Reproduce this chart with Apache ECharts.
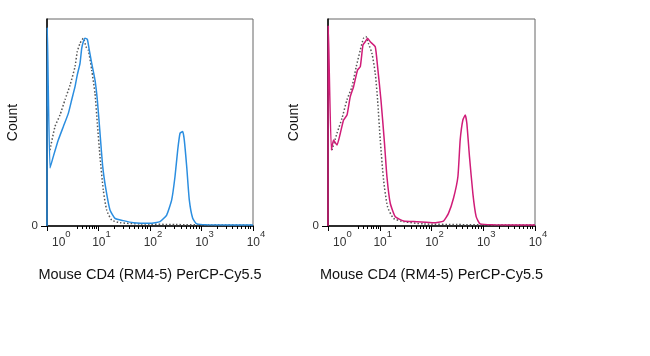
<!DOCTYPE html>
<html>
<head>
<meta charset="utf-8">
<script src="https://cdn.jsdelivr.net/npm/echarts@6/dist/echarts.min.js"></script>
<style>
html,body{margin:0;padding:0;background:#fff;}
#chart{width:650px;height:356px;}
</style>
</head>
<body>
<div id="chart"></div>
<script>
// x values are display positions on the biexponential axis (1 = 10^1, 2 = 10^2, ...)
// y values are % of mode
const xLabelPositions = [0.22, 1, 2, 3, 4];
const xLabelExponents = ['0', '1', '2', '3', '4'];
const xMajorTicks = [0, 1, 2, 3, 4];
const xTitle = 'Mouse CD4 (RM4-5) PerCP-Cy5.5';
const yTitle = 'Count';

const isoLeft = [[0.058,36.7],[0.155,48],[0.252,53.6],[0.35,61],[0.447,68],[0.544,77],[0.588,84.2],[0.641,88.2],[0.705,90.7],[0.757,86.6],[0.802,85],[0.868,75.4],[0.932,64],[0.977,49.6],[1.029,33.5],[1.093,17.4],[1.159,7.7],[1.256,2.9],[1.417,1.6],[1.806,1],[2.5,0.7],[3.2,0.5],[4,0.5]];
const stainLeft = [[0.0,0],[0.006,96],[0.058,28],[0.122,33.5],[0.219,41.5],[0.317,48],[0.414,54.4],[0.48,61],[0.544,67.3],[0.588,73],[0.641,78.6],[0.674,85.8],[0.705,89],[0.738,90.7],[0.783,90.2],[0.821,85],[0.868,78.6],[0.932,70.5],[0.977,61],[1.029,45],[1.082,28.7],[1.146,17.4],[1.223,7.7],[1.32,3.7],[1.48,2.6],[1.676,1.6],[2.0,1.3],[2.194,2.1],[2.324,5.3],[2.421,12.6],[2.485,23.8],[2.538,36.7],[2.583,44.8],[2.635,45.6],[2.666,41.5],[2.713,28.6],[2.763,12.6],[2.829,3.7],[2.907,1.0],[3.101,0.6],[4,0.5]];

const isoRight = [[0.077,36.7],[0.174,44.8],[0.27,52],[0.367,61],[0.463,67.3],[0.546,77],[0.624,85],[0.687,90.7],[0.733,91.5],[0.784,88],[0.849,83.4],[0.913,73.8],[0.958,61],[1.01,41.5],[1.074,22.2],[1.151,9.3],[1.267,3.7],[1.46,2.1],[1.847,1],[2.5,0.7],[3.2,0.5],[4,0.5]];
const stainRight = [[0.0,0],[0.006,96.6],[0.064,36.7],[0.108,41.5],[0.174,39.1],[0.238,44.8],[0.301,51.2],[0.367,53.6],[0.43,62.5],[0.494,67.3],[0.571,75.4],[0.624,77],[0.675,87.4],[0.72,89],[0.765,90.7],[0.817,89],[0.913,86.6],[0.958,77],[1.023,61],[1.087,41.5],[1.139,23.8],[1.203,11],[1.3,4.5],[1.46,2.4],[1.718,2.1],[2.039,1.6],[2.232,2.4],[2.328,6.1],[2.425,13.4],[2.51,23.8],[2.554,41.5],[2.606,51.2],[2.651,53.6],[2.683,49.6],[2.734,33.5],[2.799,15.8],[2.863,4.5],[2.94,1],[3.2,0.6],[4,0.5]];

const stainColors = ['#2b8ee0', '#d01c78'];

function minorTicks() {
  const out = [];
  for (let k = 3; k <= 9; k++) out.push(0.22 + 0.78 * Math.log10(k));
  for (let d = 1; d <= 3; d++) for (let k = 2; k <= 9; k++) out.push(d + Math.log10(k));
  return out;
}

const grids = [
  {left: 47, top: 19, width: 206, height: 207},
  {left: 328, top: 19, width: 207, height: 207}
];

const xAxes = [], yAxes = [], series = [];
grids.forEach((g, i) => {
  g.show = true; g.borderColor = '#666'; g.borderWidth = 1; g.backgroundColor = '#fff';
  xAxes.push({
    type: 'value', gridIndex: i, min: 0, max: 4,
    name: xTitle, nameLocation: 'middle', nameGap: 41,
    nameTextStyle: {fontFamily: 'Liberation Sans, Arial', fontSize: 14.5, color: '#111'},
    axisLine: {show: true, onZero: false, lineStyle: {color: '#000', width: 1.5}},
    axisTick: {show: true, inside: false, length: 5, customValues: xMajorTicks, lineStyle: {color: '#000', width: 1}},
    axisLabel: {
      show: true, margin: 3, customValues: xLabelPositions, padding: [0, 0, 0, 6],
      formatter: v => {
        const idx = xLabelPositions.findIndex(p => Math.abs(p - v) < 1e-6);
        return '{b|10}{s|' + xLabelExponents[idx] + '}';
      },
      rich: {
        b: {fontFamily: 'Liberation Sans, Arial', fontSize: 12, color: '#333', lineHeight: 20, verticalAlign: 'bottom'},
        s: {fontFamily: 'Liberation Sans, Arial', fontSize: 9.5, color: '#333', lineHeight: 10, verticalAlign: 'top'}
      }
    },
    splitLine: {show: false}
  });
  xAxes.push({
    type: 'value', gridIndex: i, min: 0, max: 4, position: 'bottom',
    axisLine: {show: false},
    axisTick: {show: true, inside: false, length: 3, customValues: minorTicks(), lineStyle: {color: '#000', width: 1}},
    axisLabel: {show: false},
    splitLine: {show: false}
  });
  yAxes.push({
    type: 'value', gridIndex: i, min: 0, max: 100,
    name: yTitle, nameLocation: 'middle', nameGap: 27, nameRotate: 90,
    nameTextStyle: {fontFamily: 'Liberation Sans, Arial', fontSize: 14, color: '#111'},
    axisLine: {show: true, onZero: false, lineStyle: {color: '#000', width: 1.5}},
    axisTick: {show: true, inside: false, length: 6, customValues: [0], lineStyle: {color: '#000', width: 1}},
    axisLabel: {show: true, customValues: [0], margin: 9, padding: [0, 0, 6, 0],
      fontFamily: 'Liberation Sans, Arial', fontSize: 11.5, color: '#333'},
    splitLine: {show: false}
  });
});

const iso = [isoLeft, isoRight];
const stain = [stainLeft, stainRight];
for (let i = 0; i < 2; i++) {
  series.push({
    type: 'line', xAxisIndex: i * 2, yAxisIndex: i, data: iso[i], showSymbol: false, smooth: 0.2,
    lineStyle: {color: '#555', width: 1.5, type: [1.5, 2]}, z: 2, silent: true
  });
  series.push({
    type: 'line', xAxisIndex: i * 2, yAxisIndex: i, data: stain[i], showSymbol: false, smooth: 0.15,
    lineStyle: {color: stainColors[i], width: 1.5}, z: 3, silent: true
  });
}

const chart = echarts.init(document.getElementById('chart'), null, {renderer: 'canvas'});
chart.setOption({
  backgroundColor: '#fff',
  animation: false,
  grid: grids,
  xAxis: xAxes,
  yAxis: yAxes,
  series: series
});
</script>
</body>
</html>
